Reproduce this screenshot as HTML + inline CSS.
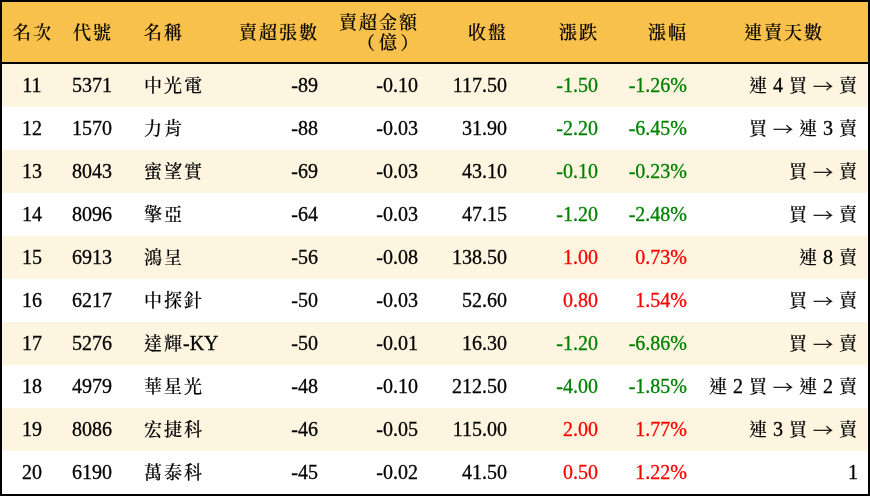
<!DOCTYPE html>
<html lang="zh-Hant">
<head>
<meta charset="utf-8">
<title>賣超排行</title>
<style>
html,body{margin:0;padding:0;}
body{width:870px;height:496px;overflow:hidden;background:#000;font-family:"Liberation Serif","Noto Serif CJK TC","Noto Serif CJK SC",serif;font-size:20px;color:#000;-webkit-text-stroke:0.3px currentColor;}
.frame{position:absolute;left:2px;top:2px;width:866px;height:492px;background:#fff;overflow:hidden;will-change:transform;}
.hd{position:absolute;left:0;top:0;width:866px;height:60px;background:#F8C14B;border-bottom:2px solid #000;}
.row{position:relative;height:43px;width:866px;background:#fff;}
.row.odd{background:#FEF5E0;}
.hd + .row{margin-top:62px;}
.c{position:absolute;top:0;height:43px;line-height:43px;white-space:nowrap;}
.hd .c{top:0;height:60px;line-height:60px;}
.hd .c.two{line-height:20px;top:10px;height:40px;}
.k{font-family:"Liberation Serif","Noto Serif CJK TC","Noto Serif CJK SC",serif;font-size:18px;font-weight:500;-webkit-text-stroke:0.15px currentColor;letter-spacing:2px;margin-left:1px;margin-right:-1px;line-height:1;}
.a{font-family:"Noto Serif CJK TC","Noto Serif CJK SC",serif;font-size:20px;line-height:1;position:relative;top:2px;display:inline-block;transform:scaleY(.78);-webkit-text-stroke:0.45px currentColor;}
.pl{position:relative;left:-2px;}
.pr{position:relative;left:1.5px;}
.c1{left:0;width:60px;text-align:center;}
.c2{left:62px;width:56px;text-align:center;}
.c3{left:141px;text-align:left;}
.c4{right:550px;text-align:right;}
.c5{right:450px;text-align:right;}
.c6{right:361px;text-align:right;}
.c7{right:270px;text-align:right;}
.c8{right:181px;text-align:right;}
.c9{right:10px;text-align:right;}
.hd .h9{right:auto;left:696px;width:170px;text-align:center;}
.g{color:#008000;}
.r{color:#FF0000;}

</style>
</head>
<body>
<div class="frame">
<div class="hd"><span class="c c1"><span class="k">名次</span></span><span class="c c2"><span class="k">代號</span></span><span class="c c3"><span class="k">名稱</span></span><span class="c c4"><span class="k">賣超張數</span></span><span class="c c5 two"><span class="k">賣超金額</span><br><span class="k"><span class="pl">（</span>億<span class="pr">）</span></span></span><span class="c c6"><span class="k">收盤</span></span><span class="c c7"><span class="k">漲跌</span></span><span class="c c8"><span class="k">漲幅</span></span><span class="c c9 h9"><span class="k">連賣天數</span></span></div>
<div class="row odd"><span class="c c1">11</span><span class="c c2">5371</span><span class="c c3"><span class="k">中光電</span></span><span class="c c4">-89</span><span class="c c5">-0.10</span><span class="c c6">117.50</span><span class="c c7 g">-1.50</span><span class="c c8 g">-1.26%</span><span class="c c9"><span class="k">連</span> 4 <span class="k">買</span> <span class="a">→</span> <span class="k">賣</span></span></div>
<div class="row"><span class="c c1">12</span><span class="c c2">1570</span><span class="c c3"><span class="k">力肯</span></span><span class="c c4">-88</span><span class="c c5">-0.03</span><span class="c c6">31.90</span><span class="c c7 g">-2.20</span><span class="c c8 g">-6.45%</span><span class="c c9"><span class="k">買</span> <span class="a">→</span> <span class="k">連</span> 3 <span class="k">賣</span></span></div>
<div class="row odd"><span class="c c1">13</span><span class="c c2">8043</span><span class="c c3"><span class="k">蜜望實</span></span><span class="c c4">-69</span><span class="c c5">-0.03</span><span class="c c6">43.10</span><span class="c c7 g">-0.10</span><span class="c c8 g">-0.23%</span><span class="c c9"><span class="k">買</span> <span class="a">→</span> <span class="k">賣</span></span></div>
<div class="row"><span class="c c1">14</span><span class="c c2">8096</span><span class="c c3"><span class="k">擎亞</span></span><span class="c c4">-64</span><span class="c c5">-0.03</span><span class="c c6">47.15</span><span class="c c7 g">-1.20</span><span class="c c8 g">-2.48%</span><span class="c c9"><span class="k">買</span> <span class="a">→</span> <span class="k">賣</span></span></div>
<div class="row odd"><span class="c c1">15</span><span class="c c2">6913</span><span class="c c3"><span class="k">鴻呈</span></span><span class="c c4">-56</span><span class="c c5">-0.08</span><span class="c c6">138.50</span><span class="c c7 r">1.00</span><span class="c c8 r">0.73%</span><span class="c c9"><span class="k">連</span> 8 <span class="k">賣</span></span></div>
<div class="row"><span class="c c1">16</span><span class="c c2">6217</span><span class="c c3"><span class="k">中探針</span></span><span class="c c4">-50</span><span class="c c5">-0.03</span><span class="c c6">52.60</span><span class="c c7 r">0.80</span><span class="c c8 r">1.54%</span><span class="c c9"><span class="k">買</span> <span class="a">→</span> <span class="k">賣</span></span></div>
<div class="row odd"><span class="c c1">17</span><span class="c c2">5276</span><span class="c c3"><span class="k">達輝</span>-KY</span><span class="c c4">-50</span><span class="c c5">-0.01</span><span class="c c6">16.30</span><span class="c c7 g">-1.20</span><span class="c c8 g">-6.86%</span><span class="c c9"><span class="k">買</span> <span class="a">→</span> <span class="k">賣</span></span></div>
<div class="row"><span class="c c1">18</span><span class="c c2">4979</span><span class="c c3"><span class="k">華星光</span></span><span class="c c4">-48</span><span class="c c5">-0.10</span><span class="c c6">212.50</span><span class="c c7 g">-4.00</span><span class="c c8 g">-1.85%</span><span class="c c9"><span class="k">連</span> 2 <span class="k">買</span> <span class="a">→</span> <span class="k">連</span> 2 <span class="k">賣</span></span></div>
<div class="row odd"><span class="c c1">19</span><span class="c c2">8086</span><span class="c c3"><span class="k">宏捷科</span></span><span class="c c4">-46</span><span class="c c5">-0.05</span><span class="c c6">115.00</span><span class="c c7 r">2.00</span><span class="c c8 r">1.77%</span><span class="c c9"><span class="k">連</span> 3 <span class="k">買</span> <span class="a">→</span> <span class="k">賣</span></span></div>
<div class="row"><span class="c c1">20</span><span class="c c2">6190</span><span class="c c3"><span class="k">萬泰科</span></span><span class="c c4">-45</span><span class="c c5">-0.02</span><span class="c c6">41.50</span><span class="c c7 r">0.50</span><span class="c c8 r">1.22%</span><span class="c c9">1</span></div>
</div>
</body>
</html>
